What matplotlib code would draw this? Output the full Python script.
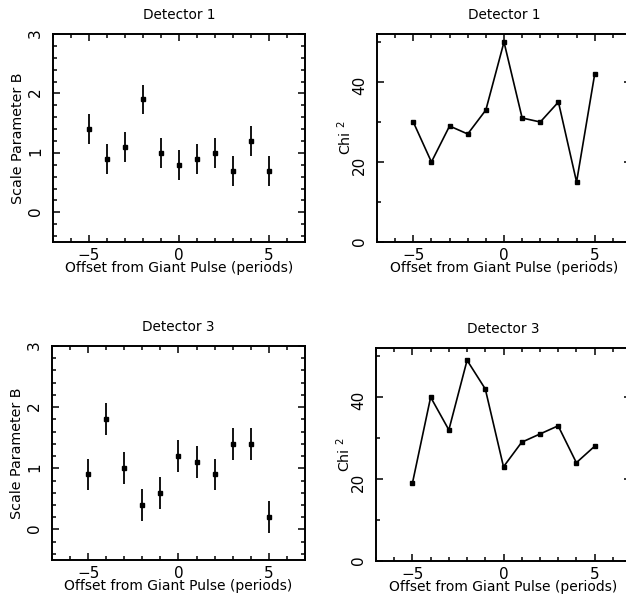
import matplotlib.pyplot as plt
from matplotlib.ticker import MultipleLocator

plt.rcParams['font.family'] = 'DejaVu Sans'

offsets = [-5, -4, -3, -2, -1, 0, 1, 2, 3, 4, 5]

# Detector 1
scale_d1 = [1.4, 0.9, 1.1, 1.9, 1.0, 0.8, 0.9, 1.0, 0.7, 1.2, 0.7]
err_d1 = [0.25] * 11
chi2_d1 = [30, 20, 29, 27, 33, 50, 31, 30, 35, 15, 42]

# Detector 3
scale_d3 = [0.9, 1.8, 1.0, 0.4, 0.6, 1.2, 1.1, 0.9, 1.4, 1.4, 0.2]
err_d3 = [0.26] * 11
chi2_d3 = [19, 40, 32, 49, 42, 23, 29, 31, 33, 24, 28]

W, H = 626, 596
fig = plt.figure(figsize=(W / 100, H / 100), dpi=100)


def px_axes(left, top, right, bottom):
    return fig.add_axes([left / W, 1 - bottom / H, (right - left) / W, (bottom - top) / H])


def style(ax, ymaj, ymin, title, ylabel, ypad):
    ax.set_xlim(-7, 7)
    ax.xaxis.set_major_locator(MultipleLocator(5))
    ax.xaxis.set_minor_locator(MultipleLocator(1))
    ax.yaxis.set_major_locator(MultipleLocator(ymaj))
    ax.yaxis.set_minor_locator(MultipleLocator(ymin))
    ax.tick_params(which='both', direction='in', top=True, right=True, width=1.1)
    ax.tick_params(which='major', length=5)
    ax.tick_params(which='minor', length=3)
    ax.tick_params(axis='x', labelsize=11, pad=4)
    ax.tick_params(axis='y', labelsize=11, labelrotation=90, pad=7)
    for s in ax.spines.values():
        s.set_linewidth(1.4)
    ax.set_title(title, fontsize=9.8, pad=11)
    ax.set_xlabel('Offset from Giant Pulse (periods)', fontsize=10, labelpad=-1)
    ax.set_ylabel(ylabel, fontsize=10.3, labelpad=ypad)


def scale_panel(ax, vals, errs, title):
    ax.errorbar(offsets, vals, yerr=errs, fmt='s', color='black', ms=3.5,
                elinewidth=1.3, capsize=0)
    ax.set_ylim(-0.5, 3)
    style(ax, 1, 0.2, title, 'Scale Parameter B', 2.5)


def chi_panel(ax, vals, title):
    ax.plot(offsets, vals, '-s', color='black', lw=1.2, ms=3.5)
    ax.set_ylim(0, 52)
    style(ax, 20, 10, title, 'Chi $^{\\mathsf{2}}$', -1)


scale_panel(px_axes(53, 34, 305, 242), scale_d1, err_d1, 'Detector 1')
chi_panel(px_axes(377, 34, 631, 242), chi2_d1, 'Detector 1')
scale_panel(px_axes(52, 346, 305, 560), scale_d3, err_d3, 'Detector 3')
chi_panel(px_axes(376, 348, 631, 561), chi2_d3, 'Detector 3')

fig.savefig('out.png', dpi=100)
